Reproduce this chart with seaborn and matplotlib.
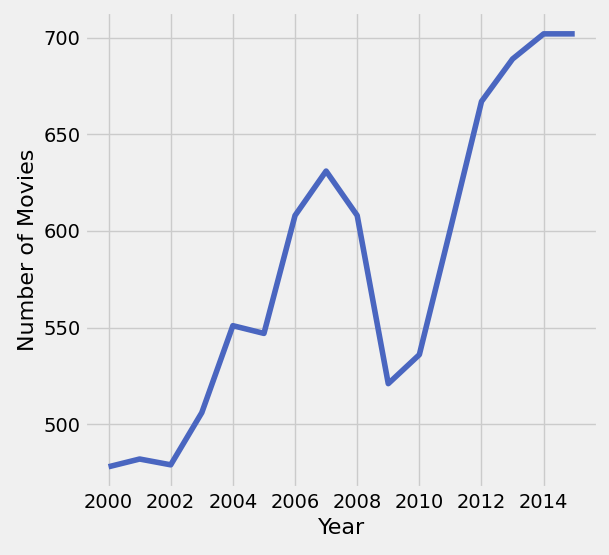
import matplotlib
matplotlib.use("Agg")
import matplotlib.pyplot as plt
import seaborn as sns
import pandas as pd

years = list(range(2000, 2016))
movies = [478, 482, 479, 506, 551, 547, 608, 631, 608, 521, 536, 601, 667, 689, 702, 702]

plt.style.use("fivethirtyeight")
df = pd.DataFrame({"Year": years, "Number of Movies": movies})

fig, ax = plt.subplots(figsize=(6.09, 5.55), dpi=100)
sns.lineplot(data=df, x="Year", y="Number of Movies", color="#4a66c0", linewidth=4, ax=ax)
ax.set_xticks(range(2000, 2016, 2))
ax.set_xlabel("Year", fontsize=16)
ax.set_ylabel("Number of Movies", fontsize=16)
ax.tick_params(labelsize=14)
fig.subplots_adjust(left=0.14, right=0.982, bottom=0.12, top=0.978)
fig.savefig("out.png", dpi=100)
